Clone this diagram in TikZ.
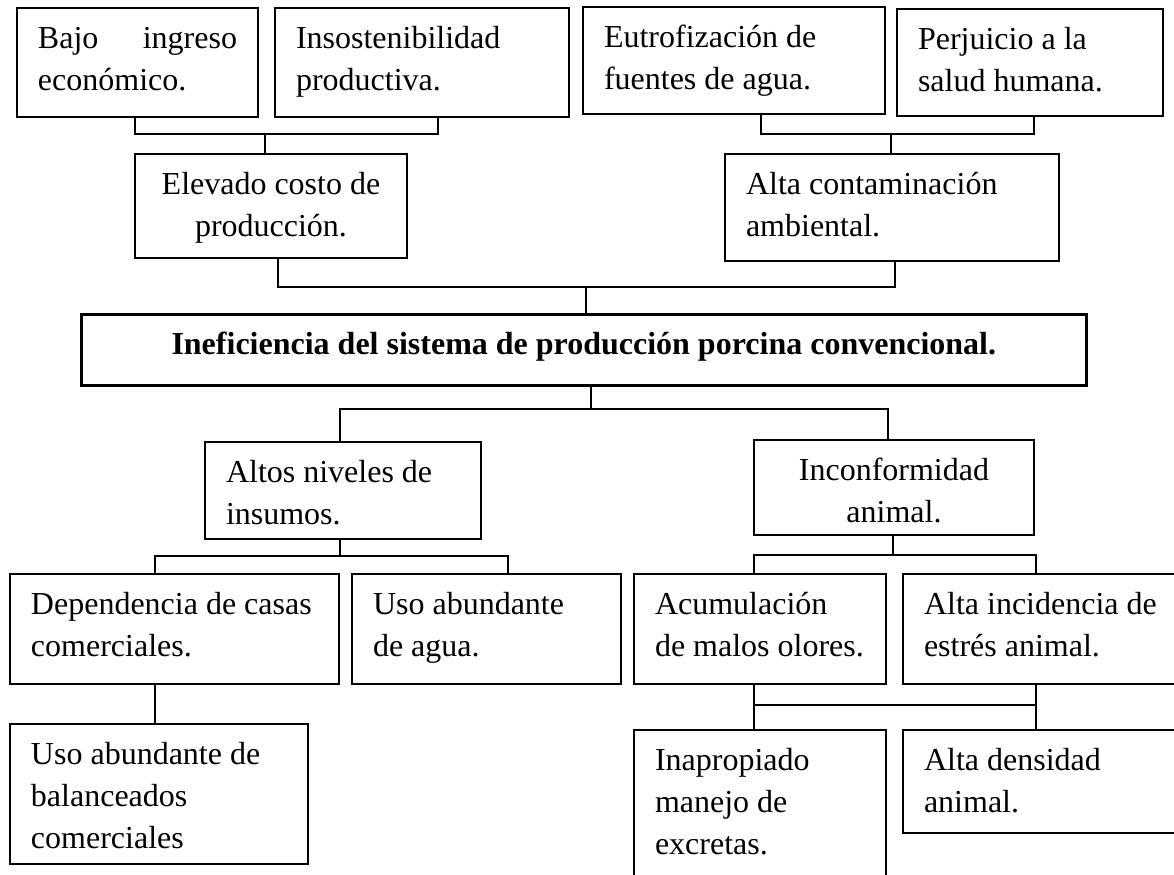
\documentclass[tikz,border=0pt]{standalone}
\usepackage{fontspec}
\setmainfont{Liberation Serif}
\usetikzlibrary{calc}

\tikzset{
  caja/.style={draw, line width=1pt, anchor=north west, inner xsep=10.5pt, inner ysep=0pt,
    text height=20pt, align=flush left, font=\fontsize{16}{21}\selectfont},
  enlace/.style={line width=1pt}
}

\begin{document}
\begin{tikzpicture}[x=0.5pt, y=-0.5pt]
		\useasboundingbox (0,0) rectangle (1174,874);
		
		% Efectos
		\node[caja, text width=99.5pt, text depth=34.5pt] (bajo) at (16,7) {Bajo \hfill ingreso\\económico.};
		\node[caja, text width=126pt, text depth=34.5pt] (insost) at (274,7) {Insostenibilidad\\productiva.};
		\node[caja, text width=130pt, text depth=33.5pt] (eutro) at (582,6) {Eutrofización de\\fuentes de agua.};
		\node[caja, text width=112pt, text depth=33.5pt] (perju) at (896,8) {Perjuicio a la\\salud humana.};
		\node[caja, align=flush center, text width=115pt, text depth=32pt] (elevado) at (134,153) {Elevado costo de\\producción.};
		\node[caja, text width=146pt, text depth=33.5pt] (contam) at (724,153) {Alta contaminación\\ambiental.};
		
		% Problema central
		\node[caja, line width=1.3pt, align=flush center, text width=481.5pt, text depth=15.5pt, font=\fontsize{16}{21}\selectfont\bfseries] (inef) at (80,313) {Ineficiencia del sistema de producción porcina convencional.};
		
		% Causas
		\node[caja, text width=117pt, text depth=28.5pt] (altos) at (204,441) {Altos niveles de\\insumos.};
		\node[caja, align=flush center, text width=119pt, text depth=27.5pt] (inconf) at (753,439) {Inconformidad\\animal.};
		\node[caja, text width=143.5pt, text depth=35pt] (depen) at (9,573) {Dependencia de casas\\comerciales.};
		\node[caja, text width=113.5pt, text depth=35pt] (agua) at (351,573) {Uso abundante\\de agua.};
		\node[caja, text width=105pt, text depth=35pt] (acum) at (633,573) {Acumulación\\de malos olores.};
		\node[caja, text width=130pt, text depth=35pt] (estres) at (902,573) {Alta incidencia de\\estrés animal.};
		\node[caja, text width=128pt, text depth=50pt] (balan) at (9,723) {Uso abundante de\\balanceados\\comerciales};
		\node[caja, text width=105pt, text depth=60pt] (inapro) at (633,729) {Inapropiado\\manejo de\\excretas.};
		\node[caja, text width=130pt, text depth=31.5pt] (densidad) at (902,729) {Alta densidad\\animal.};
		
		% Conectores de efectos
		\coordinate (jA) at (265,134);
		\draw[enlace] ([xshift=-1.25pt]bajo.south) |- (jA) -| ([xshift=8pt]insost.south);
		\draw[enlace] (jA) -- (jA |- elevado.north);
		\coordinate (jB) at (891,134);
		\draw[enlace] ([xshift=13.5pt]eutro.south) |- (jB) -| ([xshift=2pt]perju.south);
		\draw[enlace] (jB) -- (jB |- contam.north);
		\coordinate (jC) at (586,287);
		\draw[enlace] ([xshift=3.5pt]elevado.south) |- (jC) -| ([xshift=1.5pt]contam.south);
		\draw[enlace] (jC) -- (jC |- inef.north);
		
		% Conectores de causas
		\coordinate (jD) at (591,409);
		\draw[enlace] (jD |- inef.south) -- (jD);
		\draw[enlace] ([xshift=-1.5pt]altos.north) |- (jD) -| ([xshift=-3pt]inconf.north);
		\coordinate (jE) at (340,556);
		\draw[enlace] (jE |- altos.south) -- (jE);
		\draw[enlace] ([xshift=-9.75pt]depen.north) |- (jE) -| ([xshift=10.75pt]agua.north);
		\coordinate (jF) at (893,555);
		\draw[enlace] (jF |- inconf.south) -- (jF);
		\draw[enlace] ([xshift=-3pt]acum.north) |- (jF) -| ([xshift=-9pt]estres.north);
		\draw[enlace] ([xshift=-9.75pt]depen.south) -- ([xshift=-9.75pt]depen.south |- balan.north);
		
		% Conectores inferiores
		\coordinate (jG) at (753,705);
		\coordinate (jH) at (1035,705);
		\draw[enlace] ([xshift=-3pt]acum.south) -- ([xshift=-3pt]inapro.north);
		\draw[enlace] ([xshift=-9pt]estres.south) -- ([xshift=-9pt]densidad.north);
		\draw[enlace] (jG) -- (jH);
		
	\end{tikzpicture}
\end{document}
